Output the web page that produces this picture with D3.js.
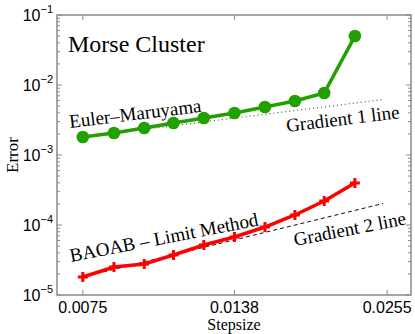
<!DOCTYPE html>
<html>
<head>
<meta charset="utf-8">
<script src="https://cdn.jsdelivr.net/npm/d3@7"></script>
<style>
  body { margin: 0; background: #fff; }
  svg { display: block; }
  .serif { font-family: "Liberation Serif"; }
  .sans { font-family: "Liberation Sans"; }
</style>
</head>
<body>
<div id="chart"></div>
<script>
// chart data
var stepsizes = [0.0075, 0.0085, 0.0096, 0.0108, 0.0122, 0.0138, 0.0156, 0.0176, 0.0198, 0.0224];
var eulerErr  = [1.81e-3, 2.06e-3, 2.43e-3, 2.87e-3, 3.38e-3, 3.98e-3, 4.85e-3, 5.91e-3, 7.69e-3, 5.0e-2];
var baoabErr  = [1.81e-5, 2.51e-5, 2.77e-5, 3.73e-5, 5.18e-5, 6.74e-5, 9.36e-5, 1.39e-4, 2.20e-4, 3.98e-4];
var gradX     = [0.0075, 0.0251];
var grad1     = [1.81e-3, 6.2e-3];
var grad2     = [1.81e-5, 2.03e-4];
var xTicks    = [0.0075, 0.0138, 0.0255];
var xTickText = ["0.0075", "0.0138", "0.0255"];
var yTicks    = [1e-5, 1e-4, 1e-3, 1e-2, 1e-1];
var yTickExp  = ["\u22125", "\u22124", "\u22123", "\u22122", "\u22121"];

var width = 415, height = 334;
var plot = {left: 57, right: 411, top: 15, bottom: 295};
var axisGray = "#8a8a8a";

var svg = d3.select("#chart").append("svg")
    .attr("width", width)
    .attr("height", height);

var x = d3.scaleLog().domain([0.00676, 0.02807]).range([plot.left, plot.right]);
var y = d3.scaleLog().domain([1e-5, 1e-1]).range([plot.bottom, plot.top]);

// minor ticks on y (2..9 of each decade)
var minor = [];
for (var d = -5; d < -1; d++) {
  for (var k = 2; k <= 9; k++) minor.push(k * Math.pow(10, d));
}

var ticks = svg.append("g").attr("stroke", axisGray).attr("stroke-width", 1);
ticks.selectAll("line.ml").data(minor).enter().append("line")
    .attr("x1", plot.left).attr("x2", plot.left + 3)
    .attr("y1", function(d) { return y(d); }).attr("y2", function(d) { return y(d); });
ticks.selectAll("line.mr").data(minor).enter().append("line")
    .attr("x1", plot.right).attr("x2", plot.right - 3)
    .attr("y1", function(d) { return y(d); }).attr("y2", function(d) { return y(d); });
ticks.selectAll("line.Ml").data(yTicks).enter().append("line")
    .attr("x1", plot.left).attr("x2", plot.left + 5)
    .attr("y1", function(d) { return y(d); }).attr("y2", function(d) { return y(d); });
ticks.selectAll("line.Mr").data(yTicks).enter().append("line")
    .attr("x1", plot.right).attr("x2", plot.right - 5)
    .attr("y1", function(d) { return y(d); }).attr("y2", function(d) { return y(d); });
ticks.selectAll("line.xb").data(xTicks).enter().append("line")
    .attr("x1", function(d) { return x(d); }).attr("x2", function(d) { return x(d); })
    .attr("y1", plot.bottom).attr("y2", plot.bottom - 5);
ticks.selectAll("line.xt").data(xTicks).enter().append("line")
    .attr("x1", function(d) { return x(d); }).attr("x2", function(d) { return x(d); })
    .attr("y1", plot.top).attr("y2", plot.top + 5);

// box
svg.append("rect")
    .attr("x", plot.left).attr("y", plot.top)
    .attr("width", plot.right - plot.left).attr("height", plot.bottom - plot.top)
    .attr("fill", "none").attr("stroke", axisGray).attr("stroke-width", 1.5);

// tick labels
svg.selectAll("text.xt").data(xTicks).enter().append("text")
    .attr("class", "sans")
    .attr("x", function(d) { return x(d); })
    .attr("y", plot.bottom + 18)
    .attr("text-anchor", "middle")
    .style("font-size", "16px")
    .text(function(d, i) { return xTickText[i]; });

var yl = svg.selectAll("text.yt").data(yTicks).enter().append("text")
    .attr("class", "sans")
    .attr("x", plot.left - 4)
    .attr("y", function(d) { return y(d) + 6; })
    .attr("text-anchor", "end")
    .style("font-size", "16px");
yl.append("tspan").text("10");
yl.append("tspan").attr("dy", -8).style("font-size", "11px")
    .text(function(d, i) { return yTickExp[i]; });

// axis titles
svg.append("text")
    .attr("class", "serif")
    .attr("x", (plot.left + plot.right) / 2).attr("y", 330)
    .attr("text-anchor", "middle")
    .style("font-size", "16px")
    .text("Stepsize");
svg.append("text")
    .attr("class", "serif")
    .attr("transform", "translate(18," + y(1e-3) + ") rotate(-90)")
    .attr("text-anchor", "middle")
    .style("font-size", "17px")
    .text("Error");

// gradient reference lines
var line = d3.line()
    .x(function(d) { return x(d[0]); })
    .y(function(d) { return y(d[1]); });

svg.append("path")
    .attr("d", line(d3.zip(gradX, grad1)))
    .attr("fill", "none").attr("stroke", "#333").attr("stroke-width", 1)
    .attr("stroke-dasharray", "1,3");
svg.append("path")
    .attr("d", line(d3.zip(gradX, grad2)))
    .attr("fill", "none").attr("stroke", "#111").attr("stroke-width", 1)
    .attr("stroke-dasharray", "4,3");

// Euler-Maruyama series
var green = "#22a000";
svg.append("path")
    .attr("d", line(d3.zip(stepsizes, eulerErr)))
    .attr("fill", "none").attr("stroke", green).attr("stroke-width", 3.5);
svg.selectAll("circle.em").data(d3.zip(stepsizes, eulerErr)).enter().append("circle")
    .attr("cx", function(d) { return x(d[0]); })
    .attr("cy", function(d) { return y(d[1]); })
    .attr("r", 6.3)
    .attr("fill", green);

// BAOAB series
var red = "#ff0000";
svg.append("path")
    .attr("d", line(d3.zip(stepsizes, baoabErr)))
    .attr("fill", "none").attr("stroke", red).attr("stroke-width", 3.5);
svg.selectAll("path.plus").data(d3.zip(stepsizes, baoabErr)).enter().append("path")
    .attr("d", function(d) {
      var cx = x(d[0]), cy = y(d[1]), s = 5;
      return "M" + (cx - s) + "," + cy + "H" + (cx + s) + "M" + cx + "," + (cy - s) + "V" + (cy + s);
    })
    .attr("stroke", red).attr("stroke-width", 3);

// annotations
svg.append("text")
    .attr("class", "serif")
    .attr("x", 68).attr("y", 52)
    .style("font-size", "24px")
    .text("Morse Cluster");

function label(txt, tx, ty, ang) {
  svg.append("text")
      .attr("class", "serif")
      .attr("transform", "translate(" + tx + "," + ty + ") rotate(" + ang + ")")
      .style("font-size", "19px")
      .text(txt);
}
label("Euler\u2013Maruyama", 70, 128, -7);
label("Gradient 1 line", 287, 132, -7);
label("BAOAB \u2013 Limit Method", 71, 262, -11);
label("Gradient 2 line", 295, 246, -11);
</script>
</body>
</html>
